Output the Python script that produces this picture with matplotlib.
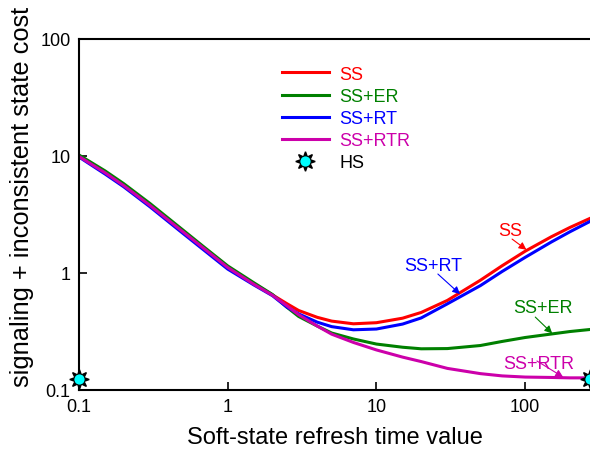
import matplotlib
matplotlib.use("Agg")
import matplotlib.pyplot as plt
from matplotlib.lines import Line2D
from matplotlib.legend_handler import HandlerTuple

plt.rcParams['font.family'] = ['Liberation Sans', 'DejaVu Sans']

# refresh time values (x) and cost of each protocol (y)
refresh = [0.1, 0.15, 0.2, 0.3, 0.5, 0.7, 1, 1.5, 2, 2.5, 3, 4, 5, 7, 10,
           15, 20, 30, 50, 70, 100, 150, 200, 273]
ss = [10.0, 7.28, 5.66, 3.84, 2.28, 1.62, 1.13, 0.81, 0.65, 0.547, 0.478,
      0.418, 0.388, 0.368, 0.376, 0.411, 0.460, 0.583, 0.867, 1.153, 1.535,
      2.04, 2.45, 2.93]
ss_er = [10.2, 7.45, 5.8, 3.93, 2.33, 1.65, 1.15, 0.825, 0.655, 0.51, 0.425,
         0.352, 0.307, 0.273, 0.247, 0.232, 0.225, 0.226, 0.240, 0.260, 0.281,
         0.301, 0.316, 0.329]
ss_rt = [9.8, 7.0, 5.45, 3.68, 2.18, 1.55, 1.08, 0.79, 0.64, 0.511, 0.447,
         0.380, 0.348, 0.327, 0.332, 0.366, 0.413, 0.545, 0.78, 1.03, 1.36,
         1.84, 2.25, 2.76]
ss_rtr = [9.9, 7.18, 5.58, 3.78, 2.25, 1.6, 1.115, 0.80, 0.645, 0.525, 0.44,
          0.352, 0.300, 0.255, 0.220, 0.191, 0.175, 0.153, 0.138, 0.132, 0.129,
          0.128, 0.127, 0.127]
hs_x = [0.1, 273]
hs_y = [0.124, 0.124]

fig = plt.figure(figsize=(5.9, 4.52), dpi=100)
ax = fig.add_axes([79/590, 61/452, 511/590, 351/452])

ax.plot(refresh, ss, color='red', lw=2.2, label='SS')
ax.plot(refresh, ss_er, color='green', lw=2.2, label='SS+ER')
ax.plot(refresh, ss_rt, color='blue', lw=2.2, label='SS+RT')
ax.plot(refresh, ss_rtr, color='#cc00aa', lw=2.2, label='SS+RTR')

# hard-state markers: cyan disc with black spikes
ax.plot(hs_x, hs_y, ls='none', marker=(8, 1, 0), ms=14, color='black',
        clip_on=False, zorder=5)
ax.plot(hs_x, hs_y, ls='none', marker='o', ms=8, mfc='cyan', mec='black',
        mew=0.6, clip_on=False, zorder=6)

ax.set_xscale('log')
ax.set_yscale('log')
ax.set_xlim(0.1, 273)
ax.set_ylim(0.1, 100)
ax.set_xticks([0.1, 1, 10, 100])
ax.set_xticklabels(['0.1', '1', '10', '100'])
ax.set_yticks([0.1, 1, 10, 100])
ax.set_yticklabels(['0.1', '1', '10', '100'])
ax.minorticks_off()
ax.tick_params(direction='in', length=6, width=1.2, labelsize=13, pad=6)
for s in ['left', 'bottom', 'top']:
    ax.spines[s].set_linewidth(1.5)
ax.spines['right'].set_visible(False)

ax.set_xlabel('Soft-state refresh time value', fontsize=17, labelpad=8)
ax.set_ylabel('signaling + inconsistent state cost', fontsize=18.3)
ax.yaxis.set_label_coords(-0.088, 0.552)

# curve labels with little arrows
arrow = dict(arrowstyle='-|>', lw=0.8, mutation_scale=11, shrinkA=0, shrinkB=0)
ax.text(79, 2.33, 'SS', color='red', fontsize=13, ha='center', va='center')
ax.annotate('', xy=(102, 1.58), xytext=(81.7, 1.95),
            arrowprops=dict(arrow, color='red'))
ax.text(24, 1.15, 'SS+RT', color='blue', fontsize=13, ha='center', va='center')
ax.annotate('', xy=(36.5, 0.66), xytext=(25.9, 0.98),
            arrowprops=dict(arrow, color='blue'))
ax.text(132, 0.51, 'SS+ER', color='green', fontsize=13, ha='center', va='center')
ax.annotate('', xy=(152, 0.305), xytext=(117, 0.42),
            arrowprops=dict(arrow, color='green'))
ax.text(124, 0.167, 'SS+RTR', color='#cc00aa', fontsize=13, ha='center', va='center')
ax.annotate('', xy=(180, 0.129), xytext=(120, 0.177),
            arrowprops=dict(arrow, color='#cc00aa'))

handles, labels = ax.get_legend_handles_labels()
star = Line2D([], [], ls='none', marker=(8, 1, 0), ms=14, color='black')
disc = Line2D([], [], ls='none', marker='o', ms=8, mfc='cyan', mec='black', mew=0.6)
handles.append((star, disc))
labels.append('HS')
ax.legend(handles, labels, handler_map={tuple: HandlerTuple(ndivide=1)},
          loc='upper left', bbox_to_anchor=(0.365, 0.97), frameon=False,
          fontsize=13, handlelength=2.6, handletextpad=0.6, labelspacing=0.28,
          labelcolor=['red', 'green', 'blue', '#cc00aa', 'black'])

fig.savefig('out.png', dpi=100)
